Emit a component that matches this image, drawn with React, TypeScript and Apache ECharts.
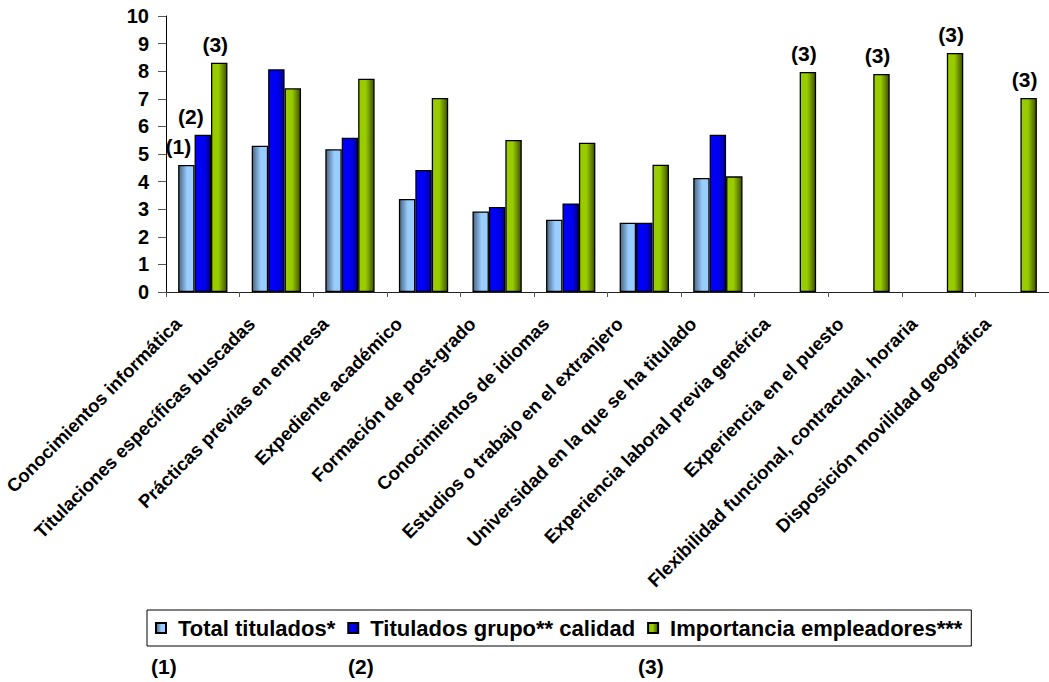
import React, { useEffect, useRef } from "react";
import * as echarts from "echarts";

const categories = [
  "Conocimientos informática",
  "Titulaciones específicas buscadas",
  "Prácticas previas en empresa",
  "Expediente académico",
  "Formación de post-grado",
  "Conocimientos de idiomas",
  "Estudios o trabajo en el extranjero",
  "Universidad en la que se ha titulado",
  "Experiencia laboral previa genérica",
  "Experiencia en el puesto",
  "Flexibilidad funcional, contractual, horaria",
  "Disposición movilidad geográfica",
];

const seriesNames = [
  "Total titulados*",
  "Titulados grupo** calidad",
  "Importancia empleadores***",
];

const totalTitulados: (number | null)[] = [4.6, 5.3, 5.17, 3.37, 2.92, 2.62, 2.51, 4.13, null, null, null, null];
const tituladosCalidad: (number | null)[] = [5.7, 8.07, 5.59, 4.42, 3.08, 3.21, 2.51, 5.7, null, null, null, null];
const importanciaEmpleadores: (number | null)[] = [8.31, 7.38, 7.73, 7.03, 5.51, 5.41, 4.61, 4.19, 7.97, 7.9, 8.66, 7.03];

const notesTotal = ["(1)", "", "", "", "", "", "", "", "", "", "", ""];
const notesCalidad = ["(2)", "", "", "", "", "", "", "", "", "", "", ""];
const notesImportancia = ["(3)", "", "", "", "", "", "", "", "(3)", "(3)", "(3)", "(3)"];

const footnotes = ["(1)", "(2)", "(3)"];

const yTicks = { min: 0, max: 10, interval: 1 };

const FONT = "'Liberation Sans', Arial, sans-serif";

function grad(stops: [number, string][]) {
  return {
    type: "linear",
    x: 0,
    y: 0,
    x2: 1,
    y2: 0,
    colorStops: stops.map(([offset, color]) => ({ offset, color })),
  };
}

const fills = [
  grad([[0, "#4a6580"], [0.55, "#99ccff"], [1, "#99ccff"]]),
  grad([[0, "#0000ff"], [0.6, "#0000ee"], [1, "#000090"]]),
  grad([[0, "#99cc00"], [0.45, "#99cc00"], [1, "#3d5200"]]),
];

const labelOffsets: [number, number][] = [[-8, 0], [-12, 0], [-4, 0]];

function buildData(values: (number | null)[], notes: string[], s: number) {
  return values.map((v, i) => {
    const item: any = { value: v === null ? "-" : v };
    if (notes[i]) {
      item.label = {
        show: true,
        position: "top",
        distance: 8,
        offset: labelOffsets[s],
        formatter: notes[i],
        fontFamily: FONT,
        fontWeight: "bold",
        fontSize: 21,
        color: "#000",
      };
    }
    return item;
  });
}

export default function App() {
  const ref = useRef<HTMLDivElement>(null);

  useEffect(() => {
    if (!ref.current) return;
    const chart = echarts.init(ref.current, undefined, { renderer: "svg" });
    const allValues = [totalTitulados, tituladosCalidad, importanciaEmpleadores];
    const allNotes = [notesTotal, notesCalidad, notesImportancia];
    const footX = [151, 348, 638];

    chart.setOption({
      animation: false,
      backgroundColor: "#ffffff",
      grid: { left: 166, top: 16, right: -8, bottom: 390, containLabel: false },
      legend: {
        left: 147,
        top: 610,
        orient: "horizontal",
        data: seriesNames,
        icon: "rect",
        itemWidth: 10,
        itemHeight: 10,
        itemGap: 12,
        borderColor: "#000",
        borderWidth: 1,
        padding: [7, 9, 7, 8],
        textStyle: {
          fontFamily: FONT,
          fontWeight: "bold",
          fontSize: 22,
          color: "#000",
          padding: [0, 0, 0, 7],
        },
      },
      xAxis: {
        type: "category",
        data: categories,
        axisLine: { lineStyle: { color: "#222", width: 1 } },
        axisTick: { show: true, length: 5, lineStyle: { color: "#555" } },
        axisLabel: {
          interval: 0,
          rotate: 45,
          margin: 4,
          padding: [0, 35, 0, 0],
          fontFamily: FONT,
          fontWeight: "bold",
          fontSize: 18.5,
          color: "#000",
        },
        splitLine: { show: false },
      },
      yAxis: {
        type: "value",
        min: yTicks.min,
        max: yTicks.max,
        interval: yTicks.interval,
        axisLine: { show: true, lineStyle: { color: "#000", width: 1 } },
        axisTick: { show: true, length: 8, lineStyle: { color: "#555" } },
        axisLabel: {
          margin: 17,
          fontFamily: FONT,
          fontWeight: "bold",
          fontSize: 20,
          color: "#000",
        },
        splitLine: { show: false },
      },
      series: seriesNames.map((name, s) => ({
        name,
        type: "bar",
        barGap: "0%",
        barCategoryGap: "33%",
        itemStyle: { color: fills[s], borderColor: "#000", borderWidth: 1.3 },
        emphasis: { disabled: true },
        data: buildData(allValues[s], allNotes[s], s),
      })),
      graphic: footnotes.map((t, i) => ({
        type: "text",
        left: footX[i],
        top: 656,
        style: {
          text: t,
          font: `bold 21px ${FONT}`,
          fill: "#000",
        },
      })),
    });

    return () => chart.dispose();
  }, []);

  return (
    <div
      ref={ref}
      style={{ position: "absolute", left: 0, top: 0, width: 1049, height: 682 }}
    />
  );
}
